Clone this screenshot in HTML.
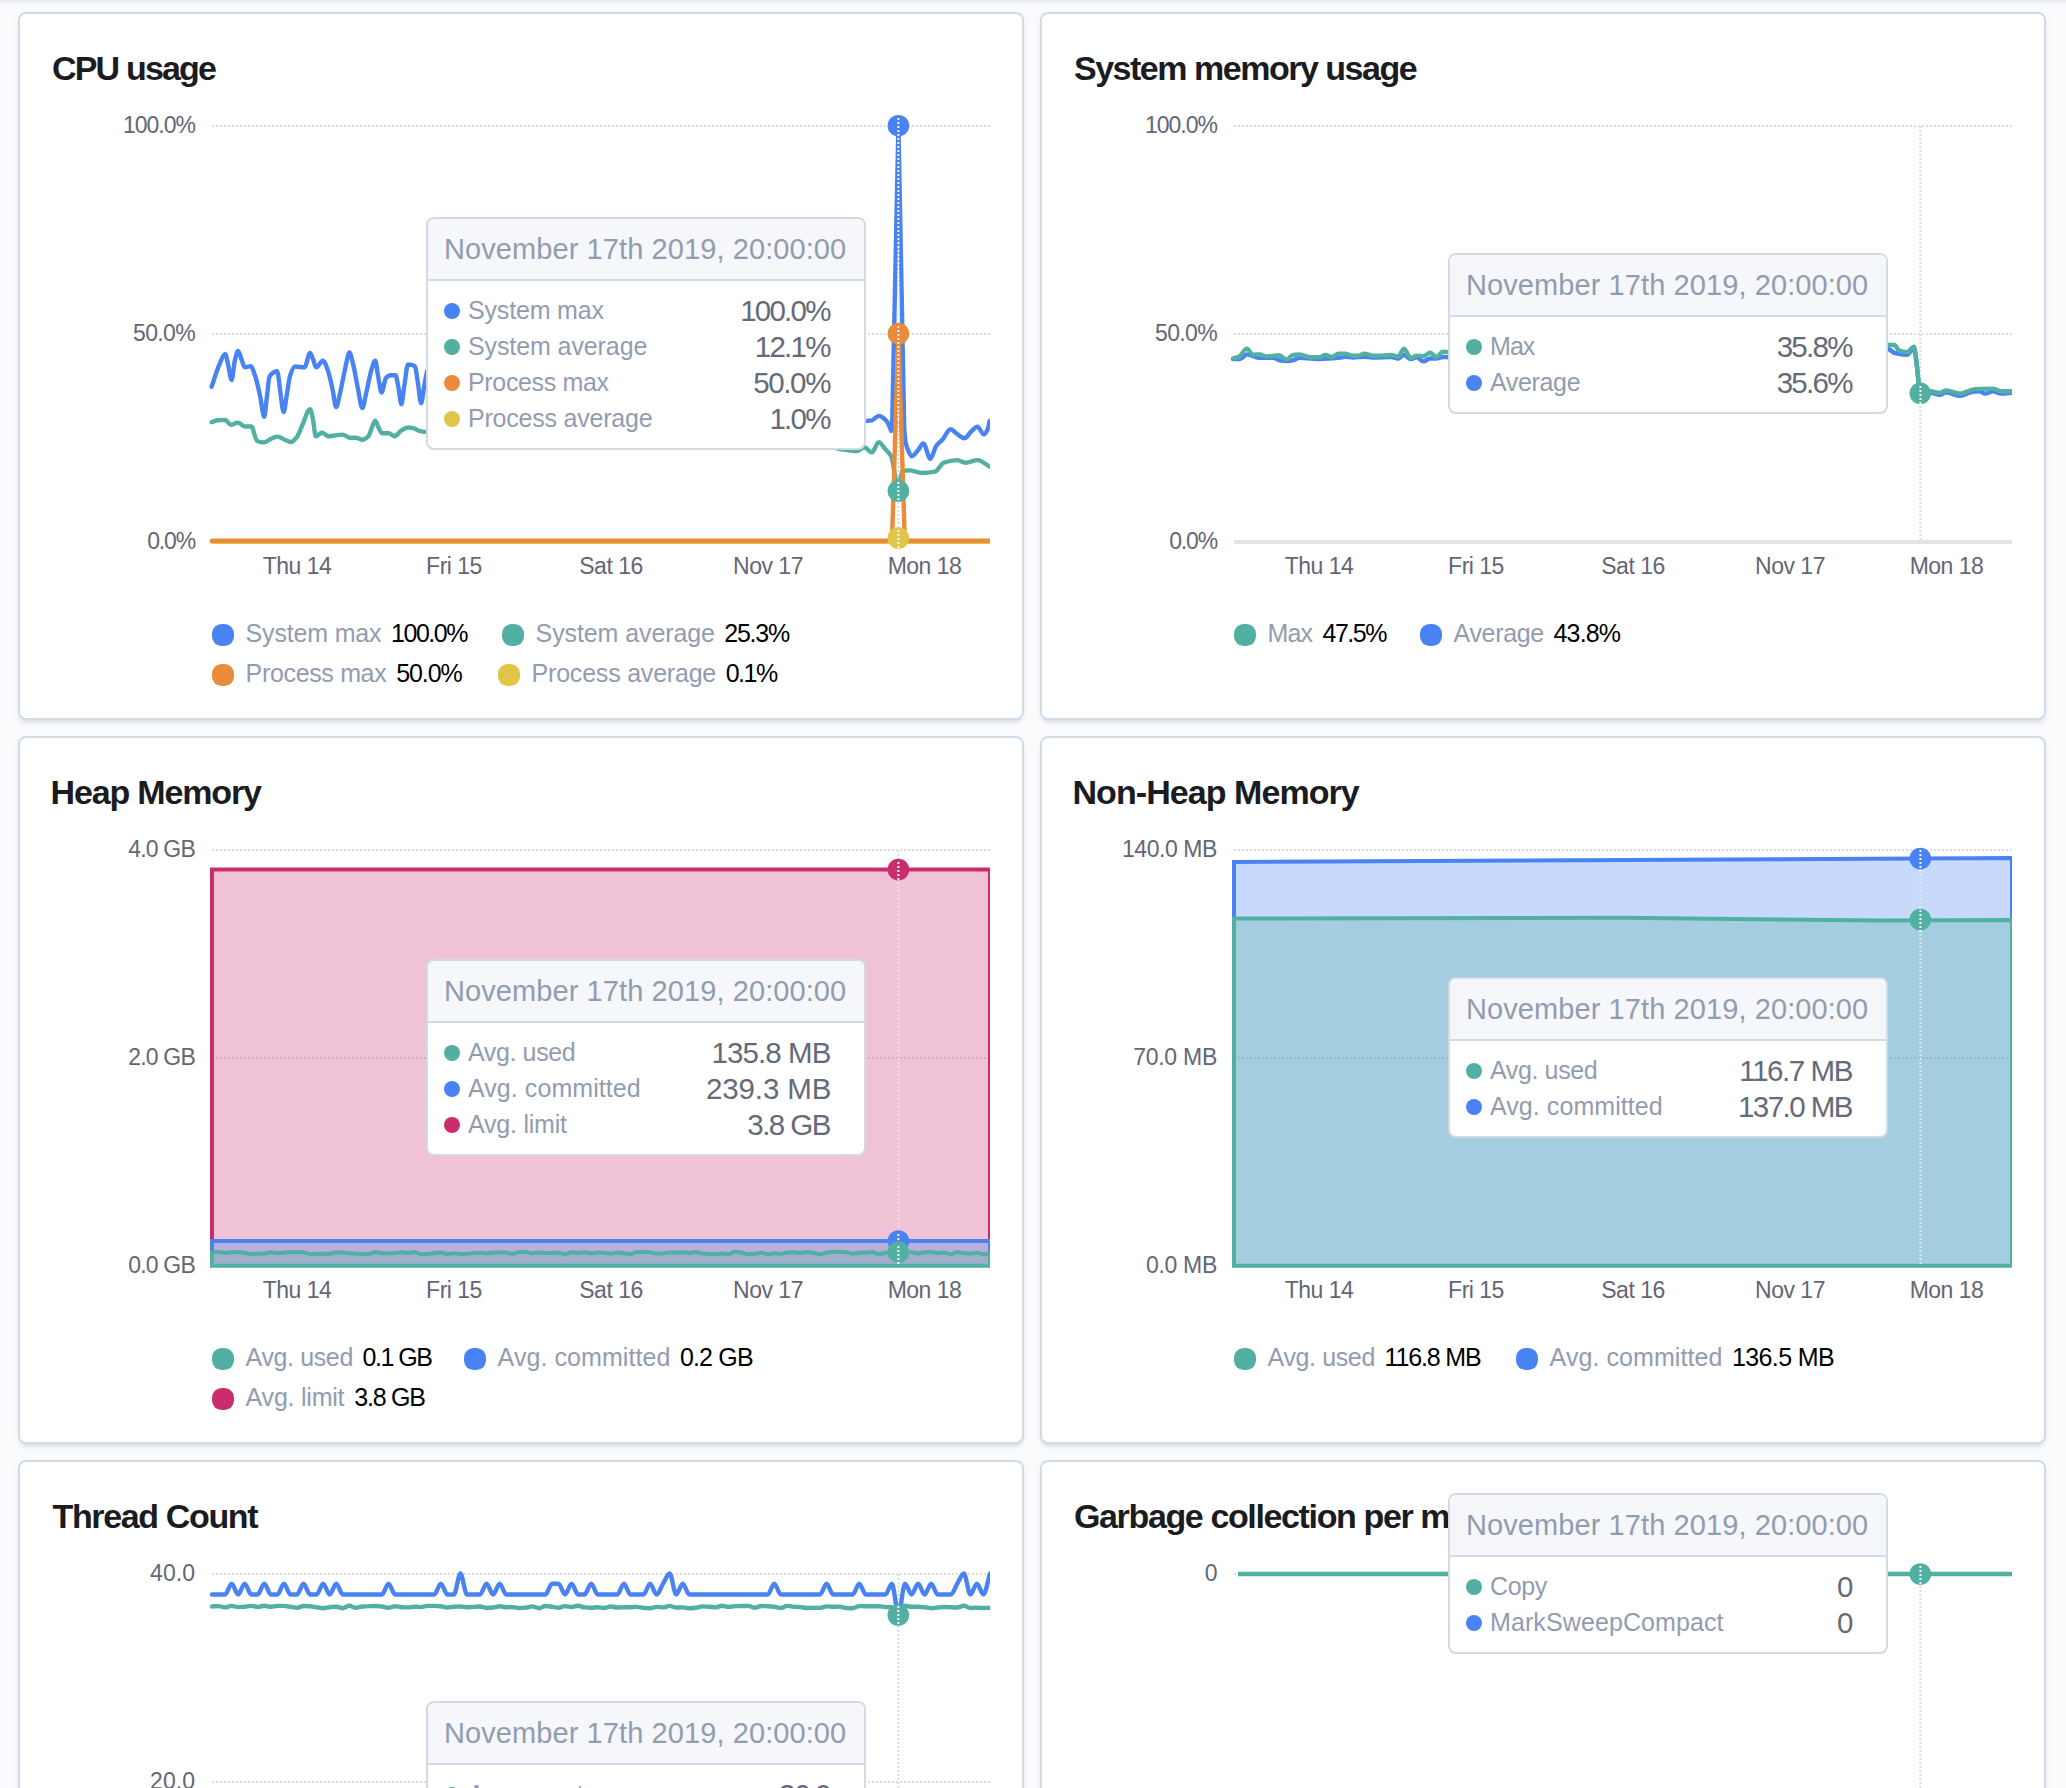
<!DOCTYPE html>
<html lang="en"><head><meta charset="utf-8"><title>Metrics</title>
<style>
*{box-sizing:border-box;margin:0;padding:0}
html,body{width:2066px;height:1788px;overflow:hidden;background:#FAFBFD}
body{position:relative;font-family:"Liberation Sans",sans-serif;color:#1a1c21}
.topshade{position:absolute;left:0;top:0;width:2066px;height:6px;background:linear-gradient(#E7E9EE,#F3F4F8 45%,#FAFBFD)}
.panel{position:absolute;width:1006px;height:708px;background:#fff;border:2px solid #D3DAE6;border-radius:8px;box-shadow:0 4px 4px -2px rgba(152,162,179,.3),0 2px 10px -4px rgba(152,162,179,.3)}
.g{position:absolute;width:0;height:0}
.g>*{position:absolute}
.title{left:53px;top:48px;font-size:34px;line-height:40px;font-weight:bold;letter-spacing:-0.034em;white-space:nowrap;color:#1a1c21}
.yl{left:35px;width:160px;text-align:right;font-size:23px;line-height:24px;color:#646674;letter-spacing:-0.045em;white-space:nowrap}
.xl{width:120px;margin-left:-60px;text-align:center;top:554px;font-size:23px;line-height:24px;color:#646674;letter-spacing:-0.022em;white-space:nowrap}
svg.plot{left:0;top:0;width:1040px;height:720px;overflow:visible}
.lg{font-size:25px;line-height:28px;white-space:nowrap;color:#929CB0}
.lv{color:#000}
.dot{width:22px;height:22px;border-radius:44%}
.tt{width:440px;background:#fff;border:2px solid #D3DAE6;border-radius:8px;overflow:hidden}
.tt .hd{height:62px;background:#F5F7FA;border-bottom:2px solid #D3DAE6;padding:14px 0 0 16px;font-size:29px;line-height:32px;color:#929CB0;letter-spacing:0.003em;white-space:nowrap}
.tt .bd{padding:12px 32.6px 11px 16px}
.tt .r{position:relative;height:36px;font-size:25px;line-height:36px;color:#929CB0;white-space:nowrap;padding-left:24px}
.tt .r span{position:relative;top:-1px}
.tt .r i{position:absolute;left:0;top:10px;width:16px;height:16px;border-radius:50%}
.tt .r b{position:absolute;right:0;top:0;font-weight:normal;font-size:29.5px;color:#666A78}
</style></head>
<body>
<div class="topshade"></div>
<div class="panel" style="left:18px;top:12px"></div>
<div class="panel" style="left:1040px;top:12px"></div>
<div class="panel" style="left:18px;top:736px"></div>
<div class="panel" style="left:1040px;top:736px"></div>
<div class="panel" style="left:18px;top:1460px"></div>
<div class="panel" style="left:1040px;top:1460px"></div>
<svg width="0" height="0" style="position:absolute"><defs><clipPath id="cp"><rect x="200" y="0" width="790" height="720"/></clipPath></defs></svg>
<div class="g" style="left:0px;top:0px"><div class="title" style="left:52px;letter-spacing:-1.82px">CPU usage</div><div class="yl" style="top:113px;letter-spacing:-1.00px">100.0%</div><div class="yl" style="top:321px;letter-spacing:-0.64px">50.0%</div><div class="yl" style="top:529px;letter-spacing:-1.16px">0.0%</div><div class="xl" style="left:297px">Thu 14</div><div class="xl" style="left:454px">Fri 15</div><div class="xl" style="left:611px">Sat 16</div><div class="xl" style="left:768px">Nov 17</div><div class="xl" style="left:924.5px">Mon 18</div><svg class="plot" viewBox="0 0 1040 720"><g fill="none" stroke-linejoin="round" stroke-linecap="round"><line x1="212" x2="990" y1="126" y2="126" stroke="#DDDDE0" stroke-width="2" stroke-dasharray="2 2" stroke-linecap="butt"/><line x1="212" x2="990" y1="334" y2="334" stroke="#DDDDE0" stroke-width="2" stroke-dasharray="2 2" stroke-linecap="butt"/><line x1="898.4" x2="898.4" y1="126.0" y2="541" stroke="#D9DADF" stroke-width="2" stroke-dasharray="2 2" stroke-linecap="butt"/><path d="M212,541.7 L892,541.7 L898.4,537.5 L905,541.7 L990,541.7" stroke="#E0C548" stroke-width="4.4" clip-path="url(#cp)"/><path d="M211.6,386.8 C214.2,379.4 216.8,370.3 219.4,364.5 C221.3,360.2 223.2,353.9 225.2,353.9 C226.1,353.9 227.1,360.7 228.1,364.5 C229.2,369.2 230.4,380.0 231.6,380.0 C232.7,380.0 233.8,365.0 234.8,360.7 C235.9,356.4 237.0,351.0 238.1,351.0 C239.3,351.0 240.5,356.9 241.6,359.7 C242.7,362.3 243.8,367.4 244.9,367.4 C246.9,367.4 248.8,366.1 250.7,366.1 C252.2,366.1 253.7,371.9 255.2,376.1 C256.8,380.8 258.4,388.3 260.0,395.5 C261.4,401.8 262.9,416.8 264.3,416.8 C265.1,416.8 266.0,403.7 266.8,397.4 C267.8,390.2 268.7,377.5 269.7,376.1 C272.2,372.8 274.6,371.3 277.1,371.3 C278.2,371.3 279.3,384.9 280.3,391.6 C281.4,398.4 282.5,412.0 283.6,412.0 C284.7,412.0 285.7,401.3 286.7,395.5 C287.8,389.4 288.9,379.5 290.0,376.1 C291.6,371.2 293.3,366.5 294.9,366.5 C298.1,366.5 301.3,367.4 304.5,367.4 C306.4,367.4 308.2,352.9 310.0,352.9 C310.9,352.9 311.9,356.5 312.9,358.7 C314.0,361.2 315.1,367.4 316.2,367.4 C318.4,367.4 320.7,360.7 322.9,360.7 C324.6,360.7 326.2,366.0 327.8,370.3 C329.4,374.6 331.0,382.5 332.6,389.7 C333.8,394.9 334.9,407.1 336.1,407.1 C337.5,407.1 338.9,397.5 340.4,391.6 C342.0,385.0 343.6,375.2 345.2,368.4 C346.6,362.5 348.0,352.5 349.5,352.5 C350.6,352.5 351.8,359.1 353.0,363.6 C354.6,369.7 356.2,380.1 357.8,387.8 C359.3,394.8 360.8,408.1 362.2,408.1 C363.7,408.1 365.1,397.5 366.5,391.6 C368.1,385.0 369.7,375.4 371.3,370.3 C372.6,366.3 373.9,360.7 375.2,360.7 C376.2,360.7 377.2,371.3 378.1,376.1 C379.3,382.0 380.4,392.6 381.6,392.6 C383.0,392.6 384.4,379.6 385.9,378.1 C387.5,376.4 389.1,375.2 390.7,375.2 C392.3,375.2 393.9,375.2 395.5,375.2 C396.5,375.2 397.5,383.0 398.5,387.8 C399.4,392.5 400.4,404.2 401.4,404.2 C402.3,404.2 403.3,391.5 404.3,385.8 C405.6,378.2 406.8,364.5 408.1,364.5 C410.4,364.5 412.6,364.9 414.9,366.1 C415.9,366.6 416.8,376.2 417.8,382.0 C418.9,388.4 420.0,403.3 421.1,403.3 C422.3,403.3 423.4,389.8 424.6,383.9 C425.6,379.0 426.5,372.0 427.5,370.3 C428.8,368.1 430.1,367.8 431.4,366.5" stroke="#4983F3" stroke-width="4.4" clip-path="url(#cp)"/><path d="M857.7,421.5 C860.3,421.4 862.9,421.3 865.5,421.0 C867.6,420.8 869.8,420.7 871.9,420.3 C874.2,419.8 876.5,415.9 878.8,415.9 C881.2,415.9 883.6,418.0 886.0,420.3 C888.0,422.1 890.0,428.3 892.0,432.3 L898.4,125.7 L904.3,430.5 C904.7,434.4 905.2,439.9 905.6,442.1 C906.4,446.0 907.1,448.1 907.9,449.8 C909.2,452.8 910.5,456.3 911.8,456.3 C913.7,456.3 915.5,453.1 917.4,451.1 C919.4,449.0 921.4,443.4 923.3,443.4 C925.7,443.4 928.0,458.8 930.3,458.8 C932.3,458.8 934.2,448.7 936.2,446.0 C938.3,443.0 940.5,442.0 942.6,439.5 C945.2,436.6 947.8,429.3 950.4,429.3 C952.8,429.3 955.2,432.9 957.6,434.4 C959.9,435.9 962.2,438.3 964.5,438.3 C966.6,438.3 968.8,433.7 970.9,431.8 C973.1,429.9 975.2,426.7 977.4,426.7 C979.5,426.7 981.7,434.4 983.8,434.4 C985.1,434.4 986.4,432.0 987.7,429.3 C988.3,427.8 989.0,423.8 989.7,421.0" stroke="#4983F3" stroke-width="4.4" stroke-linejoin="miter" clip-path="url(#cp)"/><path d="M211.6,422.2 C213.6,421.6 215.5,420.5 217.4,420.3 C220.0,420.1 222.6,419.9 225.2,419.9 C227.1,419.9 229.0,424.9 231.0,424.9 C233.2,424.9 235.5,422.6 237.8,422.6 C240.1,422.6 242.5,426.5 244.9,426.5 C247.0,426.5 249.2,426.5 251.3,426.5 C253.2,426.5 255.2,440.3 257.1,441.0 C259.4,441.9 261.6,442.4 263.9,442.4 C266.5,442.4 269.1,439.5 271.6,438.5 C273.6,437.7 275.5,436.6 277.4,436.6 C280.0,436.6 282.6,439.1 285.2,440.0 C287.1,440.8 289.1,442.0 291.0,442.0 C292.9,442.0 294.9,439.5 296.8,437.1 C298.7,434.8 300.7,428.7 302.6,424.5 C305.1,419.3 307.5,409.1 310.0,409.1 C310.9,409.1 311.9,414.6 312.9,418.7 C313.8,422.9 314.8,436.2 315.8,436.2 C317.8,436.2 319.9,432.7 322.0,432.7 C324.2,432.7 326.5,436.2 328.8,436.2 C333.3,436.2 337.8,434.6 342.3,434.6 C344.9,434.6 347.5,437.7 350.0,437.7 C352.0,437.7 353.9,437.7 355.9,437.7 C358.1,437.7 360.4,439.7 362.6,439.7 C364.6,439.7 366.5,438.1 368.4,436.2 C369.7,434.9 371.0,429.3 372.3,426.5 C373.3,424.3 374.2,420.7 375.2,420.7 C376.2,420.7 377.2,424.7 378.1,426.5 C379.4,428.9 380.7,433.3 382.0,433.3 C384.3,433.3 386.5,433.3 388.8,433.3 C390.7,433.3 392.6,436.2 394.6,436.2 C396.8,436.2 399.1,431.6 401.4,430.4 C403.6,429.1 405.9,427.5 408.1,427.5 C410.1,427.5 412.0,428.0 413.9,428.4 C416.2,429.0 418.5,431.0 420.7,431.3 C422.7,431.6 424.6,431.9 426.5,431.9 C428.5,431.9 430.4,431.5 432.3,431.3" stroke="#52B0A2" stroke-width="4.4" clip-path="url(#cp)"/><path d="M837.2,448.6 C840.2,449.0 843.2,449.5 846.2,449.8 C850.0,450.3 853.9,451.1 857.7,451.1 C859.9,451.1 862.0,447.3 864.2,447.3 C866.8,447.3 869.3,452.4 871.9,452.4 C874.2,452.4 876.5,442.1 878.8,442.1 C880.8,442.1 882.8,446.3 884.8,448.6 C886.9,451.0 889.0,451.9 891.2,456.3 C892.5,458.9 893.8,469.4 895.0,475.6 C896.2,480.9 897.3,491.0 898.4,491.0 C899.6,491.0 900.8,472.2 902.0,471.7 C904.4,470.8 906.8,470.4 909.2,470.4 C913.5,470.4 917.8,473.0 922.1,473.0 C926.3,473.0 930.6,472.5 934.9,471.7 C937.9,471.1 940.9,463.7 943.9,462.7 C948.2,461.2 952.5,460.1 956.8,460.1 C959.8,460.1 962.8,462.7 965.8,462.7 C969.6,462.7 973.5,460.1 977.4,460.1 C981.5,460.1 985.6,464.4 989.7,466.6" stroke="#52B0A2" stroke-width="4.4" clip-path="url(#cp)"/><path d="M212,540.7 L892,540.7 L898.4,333.6 L904.8,540.7 L990,540.7" stroke="#E98B3A" stroke-width="4.4" clip-path="url(#cp)"/><line x1="898.4" x2="898.4" y1="126.0" y2="421" stroke="#F1F3F8" stroke-width="2" stroke-dasharray="2 2" stroke-linecap="butt"/><circle cx="898.4" cy="125.7" r="10.8" fill="#4983F3"/><line x1="898.4" x2="898.4" y1="118.0" y2="136.0" stroke="#F6F7FA" stroke-width="2" stroke-dasharray="2 2" stroke-linecap="butt"/><circle cx="898.4" cy="333.6" r="10.8" fill="#E98B3A"/><line x1="898.4" x2="898.4" y1="326.0" y2="344.0" stroke="#F6F7FA" stroke-width="2" stroke-dasharray="2 2" stroke-linecap="butt"/><circle cx="898.4" cy="491" r="10.8" fill="#52B0A2"/><line x1="898.4" x2="898.4" y1="482.0" y2="500.0" stroke="#F6F7FA" stroke-width="2" stroke-dasharray="2 2" stroke-linecap="butt"/><circle cx="898.4" cy="538" r="10.8" fill="#E0C548"/><line x1="898.4" x2="898.4" y1="530.0" y2="548.0" stroke="#F6F7FA" stroke-width="2" stroke-dasharray="2 2" stroke-linecap="butt"/></g></svg><div class="dot" style="left:212px;top:623.5px;background:#4983F3"></div><div class="lg" style="left:245.6px;top:618.5px;letter-spacing:-0.17px">System max</div><div class="lg lv" style="left:391.1px;top:618.5px;letter-spacing:-1.50px">100.0%</div><div class="dot" style="left:502px;top:623.5px;background:#52B0A2"></div><div class="lg" style="left:535.6px;top:618.5px;letter-spacing:-0.10px">System average</div><div class="lg lv" style="left:724.3px;top:618.5px;letter-spacing:-1.25px">25.3%</div><div class="dot" style="left:212px;top:663.5px;background:#E98B3A"></div><div class="lg" style="left:245.6px;top:658.5px;letter-spacing:-0.34px">Process max</div><div class="lg lv" style="left:396.2px;top:658.5px;letter-spacing:-1.10px">50.0%</div><div class="dot" style="left:498px;top:663.5px;background:#E0C548"></div><div class="lg" style="left:531.6px;top:658.5px;letter-spacing:-0.21px">Process average</div><div class="lg lv" style="left:725.7px;top:658.5px;letter-spacing:-1.50px">0.1%</div><div class="tt" style="left:426px;top:217px"><div class="hd">November 17th 2019, 20:00:00</div><div class="bd"><div class="r"><i style="background:#4983F3"></i><span style="letter-spacing:-0.17px">System max</span><b style="letter-spacing:-1.77px;right:1.77px">100.0%</b></div><div class="r"><i style="background:#52B0A2"></i><span style="letter-spacing:-0.10px">System average</span><b style="letter-spacing:-1.77px;right:1.77px">12.1%</b></div><div class="r"><i style="background:#E98B3A"></i><span style="letter-spacing:-0.34px">Process max</span><b style="letter-spacing:-1.36px;right:1.36px">50.0%</b></div><div class="r"><i style="background:#E0C548"></i><span style="letter-spacing:-0.21px">Process average</span><b style="letter-spacing:-1.77px;right:1.77px">1.0%</b></div></div></div></div>
<div class="g" style="left:1022px;top:0px"><div class="title" style="left:52px;letter-spacing:-1.49px">System memory usage</div><div class="yl" style="top:113px;letter-spacing:-1.00px">100.0%</div><div class="yl" style="top:321px;letter-spacing:-0.64px">50.0%</div><div class="yl" style="top:529px;letter-spacing:-1.16px">0.0%</div><div class="xl" style="left:297px">Thu 14</div><div class="xl" style="left:454px">Fri 15</div><div class="xl" style="left:611px">Sat 16</div><div class="xl" style="left:768px">Nov 17</div><div class="xl" style="left:924.5px">Mon 18</div><svg class="plot" viewBox="0 0 1040 720"><g fill="none" stroke-linejoin="round" stroke-linecap="round"><line x1="212" x2="990" y1="126" y2="126" stroke="#DDDDE0" stroke-width="2" stroke-dasharray="2 2" stroke-linecap="butt"/><line x1="212" x2="990" y1="334" y2="334" stroke="#DDDDE0" stroke-width="2" stroke-dasharray="2 2" stroke-linecap="butt"/><line x1="212" x2="990" y1="542" y2="542" stroke="#E3E4E8" stroke-width="4" stroke-linecap="butt"/><line x1="898.4" x2="898.4" y1="126.0" y2="541" stroke="#D9DADF" stroke-width="2" stroke-dasharray="2 2" stroke-linecap="butt"/><path d="M211.1,359.0 C213.5,359.0 215.8,359.0 218.1,359.0 C220.4,359.0 222.7,354.4 225.1,354.4 C229.3,354.4 233.6,357.9 237.8,357.9 C242.5,357.9 247.1,357.9 251.8,357.9 C253.7,357.9 255.7,360.1 257.6,360.4 C259.9,360.8 262.2,361.1 264.6,361.1 C266.7,361.1 268.8,360.8 271.0,360.4 C273.1,360.1 275.2,357.9 277.3,357.9 C281.2,357.9 285.1,358.2 289.0,358.5 C291.7,358.6 294.4,359.0 297.1,359.0 C303.5,359.0 309.9,358.5 316.3,357.9 C318.6,357.7 320.9,356.7 323.2,356.7 C325.7,356.7 328.3,357.6 330.8,357.6 C334.7,357.6 338.5,356.7 342.4,356.7 C345.1,356.7 347.8,357.6 350.5,357.6 C356.7,357.6 362.9,357.0 369.1,357.0 C371.4,357.0 373.8,358.5 376.1,358.5 C378.0,358.5 380.0,355.0 381.9,355.0 C384.2,355.0 386.5,359.0 388.9,359.0 C390.8,359.0 392.7,357.3 394.7,357.3 C397.0,357.3 399.3,361.4 401.6,361.4 C403.8,361.4 405.9,358.5 408.0,358.5 C410.2,358.5 412.3,358.5 414.4,358.5 C416.6,358.5 418.7,357.0 420.8,357.0 C422.6,357.0 424.3,357.3 426.0,357.3 C428.8,357.3 431.5,357.3 434.2,357.3" stroke="#4983F3" stroke-width="4.4" clip-path="url(#cp)"/><path d="M856.8,348.2 C859.9,348.4 863.0,348.5 866.2,349.0 C868.3,349.3 870.4,352.3 872.4,352.9 C876.6,354.0 880.8,354.8 885.0,354.8 C887.3,354.8 889.7,348.2 892.0,348.2 C892.8,348.2 893.6,356.8 894.4,362.3 C895.3,368.9 896.2,381.7 897.2,386.5 C897.8,389.7 898.4,393.6 899.0,393.6 C902.2,393.6 905.3,392.8 908.4,392.8 C911.6,392.8 914.7,394.8 917.8,394.8 C919.9,394.8 922.0,392.3 924.1,392.3 C928.8,392.3 933.5,395.9 938.2,395.9 C942.4,395.9 946.5,392.2 950.7,391.7 C952.8,391.5 954.9,391.2 957.0,391.2 C959.1,391.2 961.1,393.6 963.2,393.6 C965.8,393.6 968.4,391.2 971.1,391.2 C973.7,391.2 976.3,393.6 978.9,393.6 C982.5,393.6 986.2,393.1 989.8,392.8" stroke="#4983F3" stroke-width="4.4" clip-path="url(#cp)"/><path d="M211.1,358.5 C213.1,357.9 215.0,357.6 216.9,356.7 C219.6,355.5 222.2,348.6 224.8,348.6 C226.9,348.6 228.9,354.7 230.9,354.7 C233.2,354.7 235.5,354.4 237.8,354.4 C240.2,354.4 242.5,356.5 244.8,356.5 C248.9,356.5 253.0,355.3 257.0,355.3 C259.5,355.3 262.1,359.6 264.6,359.6 C266.7,359.6 268.8,355.3 271.0,355.0 C273.1,354.6 275.2,354.4 277.3,354.4 C281.2,354.4 285.1,357.3 289.0,357.3 C291.7,357.3 294.4,357.3 297.1,357.3 C299.2,357.3 301.4,355.0 303.5,355.0 C305.6,355.0 307.7,357.0 309.9,357.0 C312.0,357.0 314.1,353.8 316.3,353.8 C318.6,353.8 320.9,353.8 323.2,353.8 C325.7,353.8 328.3,355.8 330.8,355.8 C332.7,355.8 334.7,355.7 336.6,355.6 C338.5,355.4 340.5,353.6 342.4,353.6 C345.1,353.6 347.8,355.4 350.5,355.6 C352.9,355.7 355.2,355.8 357.5,355.8 C361.4,355.8 365.2,355.0 369.1,355.0 C371.4,355.0 373.8,356.7 376.1,356.7 C378.0,356.7 380.0,348.8 381.9,348.8 C384.2,348.8 386.5,357.9 388.9,357.9 C390.8,357.9 392.7,355.6 394.7,355.6 C397.0,355.6 399.3,356.1 401.6,356.1 C403.8,356.1 405.9,352.7 408.0,352.7 C410.2,352.7 412.3,357.0 414.4,357.0 C416.6,357.0 418.7,351.8 420.8,351.8 C422.6,351.8 424.3,352.1 426.0,352.1 C428.8,352.1 431.5,352.1 434.2,352.1" stroke="#52B0A2" stroke-width="4.4" clip-path="url(#cp)"/><path d="M856.8,345.0 C859.9,345.0 863.0,345.0 866.2,345.0 C868.3,345.0 870.4,345.0 872.4,345.0 C874.0,345.0 875.6,350.0 877.1,350.5 C879.7,351.5 882.4,352.1 885.0,352.1 C887.3,352.1 889.7,346.6 892.0,346.6 C892.8,346.6 893.6,355.1 894.4,360.7 C895.3,367.4 896.2,381.2 897.2,385.7 C897.8,388.8 898.4,392.3 899.0,392.3 C902.2,392.3 905.3,391.2 908.4,391.2 C911.6,391.2 914.7,392.8 917.8,392.8 C919.9,392.8 922.0,390.4 924.1,390.4 C928.8,390.4 933.5,393.6 938.2,393.6 C942.4,393.6 946.5,390.4 950.7,389.7 C952.8,389.3 954.9,389.0 957.0,388.9 C961.7,388.7 966.4,388.6 971.1,388.6 C973.7,388.6 976.3,391.2 978.9,391.2 C982.5,391.2 986.2,391.2 989.8,391.2" stroke="#52B0A2" stroke-width="4.4" clip-path="url(#cp)"/><circle cx="898.3" cy="393.3" r="10.8" fill="#52B0A2"/><line x1="898.4" x2="898.4" y1="386.0" y2="404.0" stroke="#F6F7FA" stroke-width="2" stroke-dasharray="2 2" stroke-linecap="butt"/></g></svg><div class="dot" style="left:212px;top:623.5px;background:#52B0A2"></div><div class="lg" style="left:245.6px;top:618.5px;letter-spacing:-0.93px">Max</div><div class="lg lv" style="left:300.5px;top:618.5px;letter-spacing:-1.50px">47.5%</div><div class="dot" style="left:398px;top:623.5px;background:#4983F3"></div><div class="lg" style="left:431.6px;top:618.5px;letter-spacing:-0.35px">Average</div><div class="lg lv" style="left:531.6px;top:618.5px;letter-spacing:-0.88px">43.8%</div><div class="tt" style="left:426px;top:253px"><div class="hd">November 17th 2019, 20:00:00</div><div class="bd"><div class="r"><i style="background:#52B0A2"></i><span style="letter-spacing:-0.93px">Max</span><b style="letter-spacing:-1.73px;right:1.73px">35.8%</b></div><div class="r"><i style="background:#4983F3"></i><span style="letter-spacing:-0.35px">Average</span><b style="letter-spacing:-1.73px;right:1.73px">35.6%</b></div></div></div></div>
<div class="g" style="left:0px;top:724px"><div class="title" style="left:50.5px;letter-spacing:-1.16px">Heap Memory</div><div class="yl" style="top:113px;letter-spacing:-0.80px">4.0 GB</div><div class="yl" style="top:321px;letter-spacing:-0.80px">2.0 GB</div><div class="yl" style="top:529px;letter-spacing:-0.80px">0.0 GB</div><div class="xl" style="left:297px">Thu 14</div><div class="xl" style="left:454px">Fri 15</div><div class="xl" style="left:611px">Sat 16</div><div class="xl" style="left:768px">Nov 17</div><div class="xl" style="left:924.5px">Mon 18</div><svg class="plot" viewBox="0 0 1040 720"><g stroke-linejoin="miter"><line x1="212" x2="990" y1="126" y2="126" stroke="#DDDDE0" stroke-width="2" stroke-dasharray="2 2" stroke-linecap="butt"/><line x1="212" x2="990" y1="334" y2="334" stroke="#DDDDE0" stroke-width="2" stroke-dasharray="2 2" stroke-linecap="butt"/><rect x="212" y="145.5" width="778" height="396.29999999999995" fill="#CB2C6E" fill-opacity="0.29" stroke="none"/><rect x="212" y="517" width="778" height="24.799999999999955" fill="#4983F3" fill-opacity="0.3" stroke="none"/><rect x="212" y="529" width="778" height="12.799999999999955" fill="#52B0A2" fill-opacity="0.3" stroke="none"/><path d="M212,541.8 L212,145.5 L990,145.5 L990,541.8" fill="none" stroke="#CB2C6E" stroke-width="4" clip-path="url(#cp)"/><path d="M212,541.8 L212,517 L990,517 L990,541.8" fill="none" stroke="#4983F3" stroke-width="4" clip-path="url(#cp)"/><path d="M212,541.8 L212,529 " fill="none"/><path d="M210,541.8 L212,541.8 L212,528.4 L212.0,528.4 C214.2,528.3 216.4,528.0 218.5,528.0 C220.7,528.0 222.9,528.8 225.1,528.8 C227.3,528.8 229.4,528.3 231.6,528.2 C233.8,528.1 236.0,528.0 238.2,528.0 C240.3,528.0 242.5,528.4 244.7,528.8 C246.9,529.1 249.0,530.0 251.2,530.0 C253.4,530.0 255.6,529.8 257.8,529.7 C259.9,529.7 262.1,529.7 264.3,529.6 C266.5,529.6 268.7,528.3 270.8,528.3 C273.0,528.3 275.2,529.1 277.4,529.1 C279.6,529.1 281.7,528.6 283.9,528.5 C286.1,528.3 288.3,528.3 290.5,528.2 C292.6,528.1 294.8,528.1 297.0,528.1 C299.2,528.1 301.4,528.2 303.5,528.3 C305.7,528.5 307.9,530.0 310.1,530.0 C312.2,530.0 314.4,529.8 316.6,529.8 C318.8,529.8 321.0,529.7 323.1,529.7 C325.3,529.7 327.5,529.7 329.7,529.7 C331.9,529.7 334.0,528.3 336.2,528.3 C338.4,528.3 340.6,528.4 342.8,528.5 C344.9,528.7 347.1,529.2 349.3,529.3 C351.5,529.4 353.7,529.5 355.8,529.6 C358.0,529.6 360.2,529.8 362.4,529.9 C364.5,529.9 366.7,529.9 368.9,529.9 C371.1,529.9 373.3,528.0 375.4,528.0 C377.6,528.0 379.8,529.2 382.0,529.3 C384.2,529.3 386.3,529.4 388.5,529.4 C390.7,529.4 392.9,529.2 395.1,529.0 C397.2,528.8 399.4,528.2 401.6,528.2 C403.8,528.2 406.0,528.9 408.1,528.9 C410.3,528.9 412.5,528.0 414.7,528.0 C416.9,528.0 419.0,530.0 421.2,530.0 C423.4,530.0 425.6,530.0 427.7,529.9 C429.9,529.8 432.1,529.3 434.3,529.1 C436.5,528.9 438.6,528.5 440.8,528.5 C443.0,528.5 445.2,530.0 447.4,530.0 C449.5,530.0 451.7,529.2 453.9,529.2 C456.1,529.2 458.3,529.9 460.4,529.9 C462.6,529.9 464.8,529.9 467.0,529.8 C469.2,529.8 471.3,529.1 473.5,529.0 C475.7,528.9 477.9,528.8 480.1,528.8 C482.2,528.8 484.4,529.2 486.6,529.2 C488.8,529.2 490.9,529.0 493.1,528.8 C495.3,528.7 497.5,528.2 499.7,528.2 C501.8,528.2 504.0,528.4 506.2,528.5 C508.4,528.7 510.6,529.8 512.7,529.8 C514.9,529.8 517.1,527.9 519.3,527.9 C521.5,527.9 523.6,527.9 525.8,527.9 C528.0,527.9 530.2,529.3 532.4,529.3 C534.5,529.3 536.7,528.5 538.9,528.5 C541.1,528.5 543.2,529.1 545.4,529.1 C547.6,529.1 549.8,529.0 552.0,528.9 C554.1,528.9 556.3,528.6 558.5,528.6 C560.7,528.6 562.9,530.2 565.0,530.2 C567.2,530.2 569.4,528.3 571.6,528.3 C573.8,528.3 575.9,528.8 578.1,528.8 C580.3,528.8 582.5,528.3 584.7,528.3 C586.8,528.3 589.0,529.3 591.2,529.3 C593.4,529.3 595.6,528.5 597.7,528.5 C599.9,528.5 602.1,528.5 604.3,528.7 C606.4,528.8 608.6,529.6 610.8,529.6 C613.0,529.6 615.2,528.6 617.3,528.6 C619.5,528.6 621.7,528.9 623.9,529.1 C626.1,529.4 628.2,530.0 630.4,530.0 C632.6,530.0 634.8,528.1 637.0,528.0 C639.1,528.0 641.3,527.9 643.5,527.9 C645.7,527.9 647.9,528.1 650.0,528.3 C652.2,528.6 654.4,529.6 656.6,529.6 C658.8,529.6 660.9,529.4 663.1,529.3 C665.3,529.1 667.5,528.4 669.6,528.4 C671.8,528.4 674.0,528.6 676.2,528.6 C678.4,528.6 680.5,528.2 682.7,528.2 C684.9,528.2 687.1,528.9 689.3,528.9 C691.4,528.9 693.6,527.9 695.8,527.9 C698.0,527.9 700.2,529.2 702.3,529.5 C704.5,529.7 706.7,529.9 708.9,530.0 C711.1,530.0 713.2,530.1 715.4,530.1 C717.6,530.1 719.8,529.6 721.9,529.6 C724.1,529.6 726.3,530.1 728.5,530.1 C730.7,530.1 732.8,527.8 735.0,527.8 C737.2,527.8 739.4,528.2 741.6,528.5 C743.7,528.8 745.9,530.1 748.1,530.1 C750.3,530.1 752.5,529.9 754.6,529.7 C756.8,529.5 759.0,528.8 761.2,528.8 C763.4,528.8 765.5,530.1 767.7,530.1 C769.9,530.1 772.1,529.3 774.3,529.3 C776.4,529.3 778.6,529.8 780.8,529.8 C783.0,529.8 785.1,528.6 787.3,528.5 C789.5,528.4 791.7,528.3 793.9,528.3 C796.0,528.3 798.2,528.9 800.4,528.9 C802.6,528.9 804.8,528.1 806.9,528.1 C809.1,528.1 811.3,528.4 813.5,528.7 C815.7,529.0 817.8,530.1 820.0,530.1 C822.2,530.1 824.4,528.9 826.6,528.6 C828.7,528.3 830.9,527.8 833.1,527.8 C835.3,527.8 837.5,527.9 839.6,527.9 C841.8,528.0 844.0,528.0 846.2,528.2 C848.3,528.4 850.5,529.7 852.7,529.7 C854.9,529.7 857.1,528.8 859.2,528.7 C861.4,528.6 863.6,528.6 865.8,528.5 C868.0,528.4 870.1,528.0 872.3,528.0 C874.5,528.0 876.7,530.2 878.9,530.2 C881.0,530.2 883.2,529.1 885.4,528.8 C887.6,528.6 889.8,528.4 891.9,528.3 C894.1,528.2 896.3,527.9 898.5,527.9 C900.6,527.9 902.8,527.9 905.0,527.9 C907.2,527.9 909.4,528.1 911.5,528.2 C913.7,528.4 915.9,529.4 918.1,529.4 C920.3,529.4 922.4,528.3 924.6,528.2 C926.8,528.0 929.0,527.9 931.2,527.9 C933.3,527.9 935.5,529.0 937.7,529.0 C939.9,529.0 942.1,528.4 944.2,528.4 C946.4,528.4 948.6,530.2 950.8,530.2 C953.0,530.2 955.1,528.1 957.3,528.1 C959.5,528.1 961.7,528.8 963.8,529.1 C966.0,529.3 968.2,529.7 970.4,529.7 C972.6,529.7 974.7,528.8 976.9,528.8 C979.1,528.8 981.3,530.2 983.5,530.2 C985.6,530.2 987.8,529.4 990.0,528.9 L990,541.8 L210,541.8 L992,541.8" fill="none" stroke="#52B0A2" stroke-width="4" clip-path="url(#cp)"/><line x1="898.4" x2="898.4" y1="126.0" y2="145.5" stroke="#D9DADF" stroke-width="2" stroke-dasharray="2 2" stroke-linecap="butt"/><line x1="898.4" x2="898.4" y1="146.0" y2="541.5" stroke="#EDE0E9" stroke-width="2" stroke-dasharray="2 2" stroke-linecap="butt"/><circle cx="898.4" cy="145.5" r="10.8" fill="#CB2C6E"/><line x1="898.4" x2="898.4" y1="138.0" y2="156.0" stroke="#F6F7FA" stroke-width="2" stroke-dasharray="2 2" stroke-linecap="butt"/><circle cx="898.4" cy="517" r="10.8" fill="#4983F3"/><line x1="898.4" x2="898.4" y1="510.0" y2="528.0" stroke="#F6F7FA" stroke-width="2" stroke-dasharray="2 2" stroke-linecap="butt"/><circle cx="898.4" cy="528" r="10.8" fill="#52B0A2"/><line x1="898.4" x2="898.4" y1="522.0" y2="540.0" stroke="#F6F7FA" stroke-width="2" stroke-dasharray="2 2" stroke-linecap="butt"/></g></svg><div class="dot" style="left:212px;top:623.5px;background:#52B0A2"></div><div class="lg" style="left:245.6px;top:618.5px;letter-spacing:-0.38px">Avg. used</div><div class="lg lv" style="left:362.6px;top:618.5px;letter-spacing:-1.50px">0.1 GB</div><div class="dot" style="left:464px;top:623.5px;background:#4983F3"></div><div class="lg" style="left:497.6px;top:618.5px;letter-spacing:0.07px">Avg. committed</div><div class="lg lv" style="left:679.9px;top:618.5px;letter-spacing:-0.81px">0.2 GB</div><div class="dot" style="left:212px;top:663.5px;background:#CB2C6E"></div><div class="lg" style="left:245.6px;top:658.5px;letter-spacing:-0.22px">Avg. limit</div><div class="lg lv" style="left:354.3px;top:658.5px;letter-spacing:-1.23px">3.8 GB</div><div class="tt" style="left:426px;top:235px"><div class="hd">November 17th 2019, 20:00:00</div><div class="bd"><div class="r"><i style="background:#52B0A2"></i><span style="letter-spacing:-0.38px">Avg. used</span><b style="letter-spacing:-0.90px;right:0.90px">135.8 MB</b></div><div class="r"><i style="background:#4983F3"></i><span style="letter-spacing:0.07px">Avg. committed</span><b style="letter-spacing:-0.11px;right:0.11px">239.3 MB</b></div><div class="r"><i style="background:#CB2C6E"></i><span style="letter-spacing:-0.22px">Avg. limit</span><b style="letter-spacing:-1.55px;right:1.55px">3.8 GB</b></div></div></div></div>
<div class="g" style="left:1022px;top:724px"><div class="title" style="left:50.5px;letter-spacing:-0.94px">Non-Heap Memory</div><div class="yl" style="top:113px;letter-spacing:-0.42px">140.0 MB</div><div class="yl" style="top:321px;letter-spacing:-0.26px">70.0 MB</div><div class="yl" style="top:529px;letter-spacing:-0.29px">0.0 MB</div><div class="xl" style="left:297px">Thu 14</div><div class="xl" style="left:454px">Fri 15</div><div class="xl" style="left:611px">Sat 16</div><div class="xl" style="left:768px">Nov 17</div><div class="xl" style="left:924.5px">Mon 18</div><svg class="plot" viewBox="0 0 1040 720"><g stroke-linejoin="miter"><line x1="212" x2="990" y1="126" y2="126" stroke="#DDDDE0" stroke-width="2" stroke-dasharray="2 2" stroke-linecap="butt"/><line x1="212" x2="990" y1="334" y2="334" stroke="#DDDDE0" stroke-width="2" stroke-dasharray="2 2" stroke-linecap="butt"/><path d="M212,541.8 L212,138 L990,134 L990,541.8 Z" fill="#4983F3" fill-opacity="0.3" stroke="none"/><path d="M212,541.8 L212,194.5 L600,193.7 L860,196.5 L990,196 L990,541.8 Z" fill="#52B0A2" fill-opacity="0.3" stroke="none"/><path d="M212,541.8 L212,138 L990,134 L990,541.8" fill="none" stroke="#4983F3" stroke-width="4" clip-path="url(#cp)"/><path d="M210,541.8 L212,541.8 L212,194.5 L600,193.7 L860,196.5 L990,196 L990,541.8 L210,541.8 L992,541.8" fill="none" stroke="#52B0A2" stroke-width="4" clip-path="url(#cp)"/><line x1="898.4" x2="898.4" y1="126.0" y2="137" stroke="#D9DADF" stroke-width="2" stroke-dasharray="2 2" stroke-linecap="butt"/><line x1="898.4" x2="898.4" y1="138.0" y2="541" stroke="#DCEAF4" stroke-width="2" stroke-dasharray="2 2" stroke-linecap="butt"/><circle cx="898.3" cy="134.5" r="10.8" fill="#4983F3"/><line x1="898.4" x2="898.4" y1="126.0" y2="144.0" stroke="#F6F7FA" stroke-width="2" stroke-dasharray="2 2" stroke-linecap="butt"/><circle cx="898.3" cy="195.5" r="10.8" fill="#52B0A2"/><line x1="898.4" x2="898.4" y1="186.0" y2="208.0" stroke="#F6F7FA" stroke-width="2" stroke-dasharray="2 2" stroke-linecap="butt"/></g></svg><div class="dot" style="left:212px;top:623.5px;background:#52B0A2"></div><div class="lg" style="left:245.6px;top:618.5px;letter-spacing:-0.38px">Avg. used</div><div class="lg lv" style="left:362.6px;top:618.5px;letter-spacing:-1.15px">116.8 MB</div><div class="dot" style="left:494px;top:623.5px;background:#4983F3"></div><div class="lg" style="left:527.6px;top:618.5px;letter-spacing:0.07px">Avg. committed</div><div class="lg lv" style="left:709.9px;top:618.5px;letter-spacing:-0.59px">136.5 MB</div><div class="tt" style="left:426px;top:253px"><div class="hd">November 17th 2019, 20:00:00</div><div class="bd"><div class="r"><i style="background:#52B0A2"></i><span style="letter-spacing:-0.38px">Avg. used</span><b style="letter-spacing:-1.43px;right:1.43px">116.7 MB</b></div><div class="r"><i style="background:#4983F3"></i><span style="letter-spacing:0.07px">Avg. committed</span><b style="letter-spacing:-1.54px;right:1.54px">137.0 MB</b></div></div></div></div>
<div class="g" style="left:0px;top:1448px"><div class="title" style="left:52.5px;letter-spacing:-1.36px">Thread Count</div><div class="yl" style="top:113px;letter-spacing:0.03px">40.0</div><div class="yl" style="top:321px;letter-spacing:0.03px">20.0</div><svg class="plot" viewBox="0 0 1040 720"><g fill="none" stroke-linejoin="round" stroke-linecap="round"><line x1="212" x2="990" y1="126" y2="126" stroke="#DDDDE0" stroke-width="2" stroke-dasharray="2 2" stroke-linecap="butt"/><line x1="212" x2="990" y1="334" y2="334" stroke="#DDDDE0" stroke-width="2" stroke-dasharray="2 2" stroke-linecap="butt"/><line x1="898.4" x2="898.4" y1="126.0" y2="400" stroke="#D9DADF" stroke-width="2" stroke-dasharray="2 2" stroke-linecap="butt"/><path d="M212.0,146.5 C214.2,146.5 216.4,146.5 218.5,146.5 C220.7,146.5 222.9,146.5 225.1,146.5 C227.3,146.5 229.4,135.7 231.6,135.7 C233.8,135.7 236.0,146.5 238.2,146.5 C240.3,146.5 242.5,135.7 244.7,135.7 C246.9,135.7 249.0,146.5 251.2,146.5 C253.4,146.5 255.6,146.5 257.8,146.5 C259.9,146.5 262.1,135.7 264.3,135.7 C266.5,135.7 268.7,146.5 270.8,146.5 C273.0,146.5 275.2,146.5 277.4,146.5 C279.6,146.5 281.7,135.7 283.9,135.7 C286.1,135.7 288.3,146.5 290.5,146.5 C292.6,146.5 294.8,146.5 297.0,146.5 C299.2,146.5 301.4,135.7 303.5,135.7 C305.7,135.7 307.9,146.5 310.1,146.5 C312.2,146.5 314.4,146.5 316.6,146.5 C318.8,146.5 321.0,135.7 323.1,135.7 C325.3,135.7 327.5,146.5 329.7,146.5 C331.9,146.5 334.0,135.7 336.2,135.7 C338.4,135.7 340.6,146.5 342.8,146.5 C344.9,146.5 347.1,146.5 349.3,146.5 C351.5,146.5 353.7,146.5 355.8,146.5 C358.0,146.5 360.2,146.5 362.4,146.5 C364.5,146.5 366.7,146.5 368.9,146.5 C371.1,146.5 373.3,146.5 375.4,146.5 C377.6,146.5 379.8,146.5 382.0,146.5 C384.2,146.5 386.3,135.7 388.5,135.7 C390.7,135.7 392.9,146.5 395.1,146.5 C397.2,146.5 399.4,146.5 401.6,146.5 C403.8,146.5 406.0,146.5 408.1,146.5 C410.3,146.5 412.5,146.5 414.7,146.5 C416.9,146.5 419.0,146.5 421.2,146.5 C423.4,146.5 425.6,146.5 427.7,146.5 C429.9,146.5 432.1,146.5 434.3,146.5 C436.5,146.5 438.6,135.7 440.8,135.7 C443.0,135.7 445.2,146.5 447.4,146.5 C449.5,146.5 451.7,146.5 453.9,146.5 C456.1,146.5 458.3,125.5 460.4,125.5 C462.6,125.5 464.8,146.5 467.0,146.5 C469.2,146.5 471.3,146.5 473.5,146.5 C475.7,146.5 477.9,146.5 480.1,146.5 C482.2,146.5 484.4,135.7 486.6,135.7 C488.8,135.7 490.9,146.5 493.1,146.5 C495.3,146.5 497.5,135.7 499.7,135.7 C501.8,135.7 504.0,146.5 506.2,146.5 C508.4,146.5 510.6,146.5 512.7,146.5 C514.9,146.5 517.1,146.5 519.3,146.5 C521.5,146.5 523.6,146.5 525.8,146.5 C528.0,146.5 530.2,146.5 532.4,146.5 C534.5,146.5 536.7,146.5 538.9,146.5 C541.1,146.5 543.2,146.5 545.4,146.5 C547.6,146.5 549.8,135.7 552.0,135.7 C554.1,135.7 556.3,135.7 558.5,135.7 C560.7,135.7 562.9,146.5 565.0,146.5 C567.2,146.5 569.4,135.7 571.6,135.7 C573.8,135.7 575.9,146.5 578.1,146.5 C580.3,146.5 582.5,146.5 584.7,146.5 C586.8,146.5 589.0,135.7 591.2,135.7 C593.4,135.7 595.6,146.5 597.7,146.5 C599.9,146.5 602.1,146.5 604.3,146.5 C606.4,146.5 608.6,146.5 610.8,146.5 C613.0,146.5 615.2,146.5 617.3,146.5 C619.5,146.5 621.7,135.7 623.9,135.7 C626.1,135.7 628.2,146.5 630.4,146.5 C632.6,146.5 634.8,146.5 637.0,146.5 C639.1,146.5 641.3,146.5 643.5,146.5 C645.7,146.5 647.9,135.7 650.0,135.7 C652.2,135.7 654.4,146.5 656.6,146.5 C658.8,146.5 660.9,139.2 663.1,135.7 C665.3,132.2 667.5,125.5 669.6,125.5 C671.8,125.5 674.0,146.5 676.2,146.5 C678.4,146.5 680.5,135.7 682.7,135.7 C684.9,135.7 687.1,146.5 689.3,146.5 C691.4,146.5 693.6,146.5 695.8,146.5 C698.0,146.5 700.2,146.5 702.3,146.5 C704.5,146.5 706.7,146.5 708.9,146.5 C711.1,146.5 713.2,146.5 715.4,146.5 C717.6,146.5 719.8,146.5 721.9,146.5 C724.1,146.5 726.3,146.5 728.5,146.5 C730.7,146.5 732.8,146.5 735.0,146.5 C737.2,146.5 739.4,146.5 741.6,146.5 C743.7,146.5 745.9,146.5 748.1,146.5 C750.3,146.5 752.5,146.5 754.6,146.5 C756.8,146.5 759.0,146.5 761.2,146.5 C763.4,146.5 765.5,146.5 767.7,146.5 C769.9,146.5 772.1,135.7 774.3,135.7 C776.4,135.7 778.6,146.5 780.8,146.5 C783.0,146.5 785.1,146.5 787.3,146.5 C789.5,146.5 791.7,146.5 793.9,146.5 C796.0,146.5 798.2,146.5 800.4,146.5 C802.6,146.5 804.8,146.5 806.9,146.5 C809.1,146.5 811.3,146.5 813.5,146.5 C815.7,146.5 817.8,146.5 820.0,146.5 C822.2,146.5 824.4,135.7 826.6,135.7 C828.7,135.7 830.9,146.5 833.1,146.5 C835.3,146.5 837.5,146.5 839.6,146.5 C841.8,146.5 844.0,146.5 846.2,146.5 C848.3,146.5 850.5,146.5 852.7,146.5 C854.9,146.5 857.1,135.7 859.2,135.7 C861.4,135.7 863.6,146.5 865.8,146.5 C868.0,146.5 870.1,146.5 872.3,146.5 C874.5,146.5 876.7,146.5 878.9,146.5 C881.0,146.5 883.2,146.5 885.4,146.5 C887.6,146.5 889.8,135.7 891.9,135.7 C894.1,135.7 896.3,167.0 898.5,167.0 C900.6,167.0 902.8,135.7 905.0,135.7 C907.2,135.7 909.4,146.5 911.5,146.5 C913.7,146.5 915.9,135.7 918.1,135.7 C920.3,135.7 922.4,146.5 924.6,146.5 C926.8,146.5 929.0,135.7 931.2,135.7 C933.3,135.7 935.5,146.5 937.7,146.5 C939.9,146.5 942.1,146.5 944.2,146.5 C946.4,146.5 948.6,146.5 950.8,146.5 C953.0,146.5 955.1,139.2 957.3,135.7 C959.5,132.2 961.7,125.5 963.8,125.5 C966.0,125.5 968.2,146.5 970.4,146.5 C972.6,146.5 974.7,135.7 976.9,135.7 C979.1,135.7 981.3,146.5 983.5,146.5 C985.6,146.5 987.8,132.5 990.0,125.5" stroke="#4983F3" stroke-width="4.4" clip-path="url(#cp)"/><path d="M212.0,158.5 C214.2,158.4 216.4,158.1 218.5,158.1 C220.7,158.1 222.9,159.4 225.1,159.4 C227.3,159.4 229.4,157.9 231.6,157.9 C233.8,157.9 236.0,159.1 238.2,159.1 C240.3,159.1 242.5,158.8 244.7,158.7 C246.9,158.5 249.0,157.9 251.2,157.9 C253.4,157.9 255.6,159.0 257.8,159.0 C259.9,159.0 262.1,157.8 264.3,157.8 C266.5,157.8 268.7,158.8 270.8,158.8 C273.0,158.8 275.2,157.9 277.4,157.9 C279.6,157.9 281.7,157.9 283.9,157.9 C286.1,158.0 288.3,158.5 290.5,158.8 C292.6,159.1 294.8,159.8 297.0,159.8 C299.2,159.8 301.4,158.0 303.5,158.0 C305.7,158.0 307.9,158.1 310.1,158.3 C312.2,158.4 314.4,159.0 316.6,159.3 C318.8,159.6 321.0,160.2 323.1,160.2 C325.3,160.2 327.5,159.4 329.7,159.2 C331.9,159.0 334.0,158.7 336.2,158.7 C338.4,158.7 340.6,160.2 342.8,160.2 C344.9,160.2 347.1,157.8 349.3,157.8 C351.5,157.8 353.7,159.9 355.8,159.9 C358.0,159.9 360.2,158.7 362.4,158.5 C364.5,158.3 366.7,158.1 368.9,158.1 C371.1,158.0 373.3,158.0 375.4,158.0 C377.6,158.0 379.8,158.3 382.0,158.5 C384.2,158.7 386.3,159.8 388.5,159.8 C390.7,159.8 392.9,158.2 395.1,158.2 C397.2,158.2 399.4,159.1 401.6,159.2 C403.8,159.3 406.0,159.4 408.1,159.4 C410.3,159.4 412.5,158.7 414.7,158.7 C416.9,158.7 419.0,159.1 421.2,159.1 C423.4,159.1 425.6,157.9 427.7,157.9 C429.9,157.9 432.1,157.9 434.3,157.9 C436.5,157.9 438.6,158.0 440.8,158.2 C443.0,158.4 445.2,159.5 447.4,159.5 C449.5,159.5 451.7,158.9 453.9,158.8 C456.1,158.7 458.3,158.5 460.4,158.5 C462.6,158.5 464.8,159.2 467.0,159.2 C469.2,159.2 471.3,159.0 473.5,158.9 C475.7,158.8 477.9,158.5 480.1,158.5 C482.2,158.5 484.4,159.8 486.6,159.8 C488.8,159.8 490.9,159.7 493.1,159.5 C495.3,159.4 497.5,158.3 499.7,158.3 C501.8,158.3 504.0,159.2 506.2,159.2 C508.4,159.2 510.6,159.1 512.7,159.1 C514.9,159.1 517.1,160.0 519.3,160.0 C521.5,160.0 523.6,159.8 525.8,159.6 C528.0,159.4 530.2,158.4 532.4,158.4 C534.5,158.4 536.7,160.2 538.9,160.2 C541.1,160.2 543.2,158.0 545.4,158.0 C547.6,158.0 549.8,158.5 552.0,158.8 C554.1,159.1 556.3,159.7 558.5,159.7 C560.7,159.7 562.9,158.1 565.0,158.1 C567.2,158.1 569.4,159.0 571.6,159.0 C573.8,159.0 575.9,157.8 578.1,157.8 C580.3,157.8 582.5,159.3 584.7,159.4 C586.8,159.6 589.0,159.7 591.2,159.7 C593.4,159.7 595.6,159.2 597.7,159.2 C599.9,159.2 602.1,160.0 604.3,160.0 C606.4,160.0 608.6,158.5 610.8,158.5 C613.0,158.5 615.2,159.5 617.3,159.5 C619.5,159.5 621.7,159.3 623.9,159.2 C626.1,159.2 628.2,159.2 630.4,159.2 C632.6,159.2 634.8,158.9 637.0,158.9 C639.1,158.9 641.3,159.7 643.5,159.9 C645.7,160.0 647.9,160.2 650.0,160.2 C652.2,160.2 654.4,158.9 656.6,158.9 C658.8,158.9 660.9,159.4 663.1,159.4 C665.3,159.4 667.5,157.9 669.6,157.9 C671.8,157.9 674.0,159.5 676.2,159.5 C678.4,159.5 680.5,159.4 682.7,159.4 C684.9,159.4 687.1,160.3 689.3,160.3 C691.4,160.3 693.6,160.1 695.8,159.8 C698.0,159.6 700.2,158.4 702.3,158.4 C704.5,158.4 706.7,158.6 708.9,158.7 C711.1,158.8 713.2,159.4 715.4,159.4 C717.6,159.4 719.8,157.8 721.9,157.8 C724.1,157.8 726.3,158.9 728.5,158.9 C730.7,158.9 732.8,158.2 735.0,158.1 C737.2,158.1 739.4,158.1 741.6,158.0 C743.7,158.0 745.9,157.9 748.1,157.9 C750.3,157.9 752.5,159.7 754.6,159.7 C756.8,159.7 759.0,158.0 761.2,158.0 C763.4,158.0 765.5,158.2 767.7,158.3 C769.9,158.5 772.1,158.5 774.3,158.7 C776.4,158.9 778.6,160.0 780.8,160.0 C783.0,160.0 785.1,157.9 787.3,157.9 C789.5,157.9 791.7,158.7 793.9,158.9 C796.0,159.0 798.2,159.0 800.4,159.1 C802.6,159.3 804.8,160.0 806.9,160.0 C809.1,160.0 811.3,159.8 813.5,159.8 C815.7,159.8 817.8,159.9 820.0,159.9 C822.2,159.9 824.4,158.4 826.6,158.4 C828.7,158.4 830.9,158.8 833.1,158.8 C835.3,158.8 837.5,158.6 839.6,158.6 C841.8,158.6 844.0,159.9 846.2,160.0 C848.3,160.1 850.5,160.2 852.7,160.2 C854.9,160.2 857.1,158.1 859.2,158.1 C861.4,158.1 863.6,158.1 865.8,158.2 C868.0,158.2 870.1,158.3 872.3,158.3 C874.5,158.3 876.7,158.3 878.9,158.3 C881.0,158.3 883.2,158.8 885.4,159.0 C887.6,159.1 889.8,159.1 891.9,159.2 C894.0,159.4 896.1,167.0 898.2,167.0 C900.5,167.0 902.7,157.7 905.0,157.7 C907.2,157.7 909.4,158.8 911.5,158.8 C913.7,158.8 915.9,158.7 918.1,158.7 C920.3,158.7 922.4,158.9 924.6,159.2 C926.8,159.4 929.0,160.2 931.2,160.2 C933.3,160.2 935.5,159.7 937.7,159.5 C939.9,159.3 942.1,159.0 944.2,159.0 C946.4,159.0 948.6,159.2 950.8,159.3 C953.0,159.4 955.1,159.5 957.3,159.5 C959.5,159.5 961.7,157.8 963.8,157.8 C966.0,157.8 968.2,160.0 970.4,160.0 C972.6,160.0 974.7,159.7 976.9,159.7 C979.1,159.7 981.3,160.0 983.5,160.0 C985.6,160.0 987.8,159.8 990.0,159.8" stroke="#52B0A2" stroke-width="4.4" clip-path="url(#cp)"/><circle cx="898.3" cy="167" r="10.8" fill="#52B0A2"/><line x1="898.4" x2="898.4" y1="158.0" y2="176.0" stroke="#F6F7FA" stroke-width="2" stroke-dasharray="2 2" stroke-linecap="butt"/></g></svg><div class="tt" style="left:426px;top:253px"><div class="hd">November 17th 2019, 20:00:00</div><div class="bd"><div class="r"><i style="background:#52B0A2"></i><span style="letter-spacing:-0.25px">Avg. count</span><b style="letter-spacing:-1.70px;right:1.70px">36.0</b></div><div class="r"><i style="background:#4983F3"></i><span style="letter-spacing:-0.25px">Max count</span><b style="letter-spacing:-1.70px;right:1.70px">36.0</b></div></div></div></div>
<div class="g" style="left:1022px;top:1448px"><div class="title" style="left:52px;letter-spacing:-1.37px">Garbage collection per minute</div><div class="yl" style="top:113px;letter-spacing:-0.60px">0</div><svg class="plot" viewBox="0 0 1040 720"><g fill="none"><line x1="212" x2="216" y1="126" y2="126" stroke="#DDDDE0" stroke-width="2" stroke-dasharray="2 2" stroke-linecap="butt"/><line x1="898.4" x2="898.4" y1="126.0" y2="400" stroke="#D9DADF" stroke-width="2" stroke-dasharray="2 2" stroke-linecap="butt"/><line x1="216" x2="990" y1="126" y2="126" stroke="#52B0A2" stroke-width="4.4" clip-path="url(#cp)"/><circle cx="898.3" cy="126" r="10.8" fill="#52B0A2"/><line x1="898.4" x2="898.4" y1="118.0" y2="136.0" stroke="#F6F7FA" stroke-width="2" stroke-dasharray="2 2" stroke-linecap="butt"/></g></svg><div class="tt" style="left:426px;top:45px"><div class="hd">November 17th 2019, 20:00:00</div><div class="bd"><div class="r"><i style="background:#52B0A2"></i><span style="letter-spacing:-0.40px">Copy</span><b style="letter-spacing:-1.70px;right:1.70px">0</b></div><div class="r"><i style="background:#4983F3"></i><span style="letter-spacing:0.10px">MarkSweepCompact</span><b style="letter-spacing:-1.70px;right:1.70px">0</b></div></div></div></div>
</body></html>
